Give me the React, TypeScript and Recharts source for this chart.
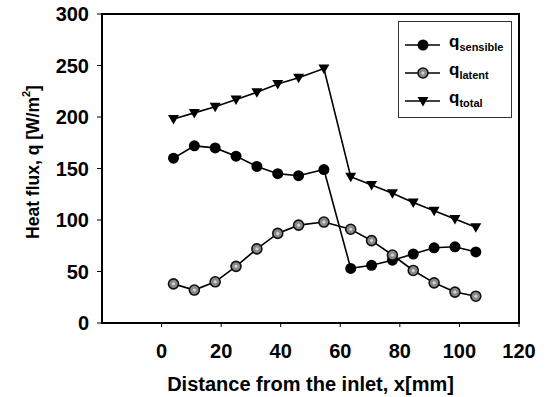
import React from 'react';
import { LineChart, Line, XAxis, YAxis, ReferenceArea } from 'recharts';

// distance from inlet [mm]
const xPos = [4, 11, 18, 25, 32, 39, 46, 54.5, 63.5, 70.5, 77.5, 84.5, 91.5, 98.5, 105.5];
const qSensible = [160, 172, 170, 162, 152, 145, 143, 149, 53, 56, 61, 67, 73, 74, 69];
const qLatent = [38, 32, 40, 55, 72, 87, 95, 98, 91, 80, 66, 51, 39, 30, 26];
const qTotal = [198, 204, 210, 217, 224, 232, 238, 247, 142, 134, 126, 117, 109, 101, 93];
const xTicks = [0, 20, 40, 60, 80, 100, 120];
const yTicks = [0, 50, 100, 150, 200, 250, 300];

const data = xPos.map((x, i) => ({
  x,
  sensible: qSensible[i],
  latent: qLatent[i],
  total: qTotal[i],
}));

const FONT = '"Liberation Sans", Arial, sans-serif';

const SensibleDot = ({ cx, cy, index }: any) => (
  <circle key={`s-${index}`} cx={cx} cy={cy} r={5.5} fill="#000" />
);

const LatentDot = ({ cx, cy, index }: any) => (
  <g key={`l-${index}`}>
    <circle cx={cx} cy={cy} r={5} fill="#8a8a8a" stroke="#111" strokeWidth={1.6} />
    <circle cx={cx} cy={cy} r={1.5} fill="#d8d8d8" />
  </g>
);

const TotalDot = ({ cx, cy, index }: any) => (
  <path
    key={`t-${index}`}
    d={`M${cx - 5.5},${cy - 4} L${cx + 5.5},${cy - 4} L${cx},${cy + 5.5} Z`}
    fill="#000"
  />
);

const YTitle = () => {
  const cx = 33;
  const cy = 162;
  return (
    <text
      x={cx}
      y={cy}
      transform={`rotate(-90 ${cx} ${cy})`}
      textAnchor="middle"
      dominantBaseline="central"
      fontFamily={FONT}
      fontWeight="bold"
      fontSize={17.5}
      fill="#000"
    >
      Heat flux, q [W/m<tspan dy={-7} fontSize={11}>2</tspan><tspan dy={7}>]</tspan>
    </text>
  );
};

const XTitle = ({ viewBox }: any) => (
  <text
    x={viewBox.x + viewBox.width / 2}
    y={391}
    textAnchor="middle"
    fontFamily={FONT}
    fontWeight="bold"
    fontSize={20}
    fill="#000"
  >
    Distance from the inlet, x[mm]
  </text>
);

const legendRows = [
  { label: 'sensible', Dot: SensibleDot },
  { label: 'latent', Dot: LatentDot },
  { label: 'total', Dot: TotalDot },
];

const LegendBox = () => (
  <div
    style={{
      position: 'absolute',
      left: 398,
      top: 21,
      width: 114,
      height: 97,
      border: '1px solid #333',
      background: '#fff',
      boxSizing: 'border-box',
      paddingTop: 9,
      fontFamily: FONT,
    }}
  >
    {legendRows.map(({ label, Dot }) => (
      <div key={label} style={{ display: 'flex', alignItems: 'center', height: 28 }}>
        <svg width={48} height={16} style={{ marginLeft: 5 }}>
          <line x1={1} y1={8} x2={36} y2={8} stroke="#000" strokeWidth={1.6} />
          <Dot cx={19} cy={8} index={0} />
        </svg>
        <span style={{ fontWeight: 'bold', fontSize: 17, color: '#000', marginLeft: -3, lineHeight: '16px' }}>
          q<sub style={{ fontSize: 11 }}>{label}</sub>
        </span>
      </div>
    ))}
  </div>
);

export default function App() {
  return (
    <div style={{ position: 'absolute', left: 0, top: 0, width: 550, height: 397, background: '#fff' }}>
      <LineChart
        width={550}
        height={397}
        data={data}
        margin={{ top: 14, right: 31, bottom: 0, left: 0 }}
      >
        <ReferenceArea
          x1={-20}
          x2={120}
          y1={0}
          y2={300}
          fill="none"
          stroke="#000"
          strokeWidth={2}
        />
        <XAxis
          type="number"
          dataKey="x"
          domain={[-20, 120]}
          ticks={xTicks}
          height={74}
          tickSize={4}
          tickMargin={17}
          axisLine={{ stroke: '#000', strokeWidth: 2 }}
          tickLine={{ stroke: '#000' }}
          tick={{ fill: '#000', fontFamily: FONT, fontWeight: 'bold', fontSize: 20 }}
          label={<XTitle />}
        />
        <YAxis
          type="number"
          domain={[0, 300]}
          ticks={yTicks}
          width={102}
          tickSize={5}
          tickMargin={8}
          axisLine={{ stroke: '#000', strokeWidth: 2 }}
          tickLine={{ stroke: '#000' }}
          tick={{ fill: '#000', fontFamily: FONT, fontWeight: 'bold', fontSize: 20 }}
          label={<YTitle />}
        />
        <Line
          dataKey="sensible"
          stroke="#000"
          strokeWidth={1.6}
          dot={SensibleDot}
          isAnimationActive={false}
        />
        <Line
          dataKey="latent"
          stroke="#000"
          strokeWidth={1.6}
          dot={LatentDot}
          isAnimationActive={false}
        />
        <Line
          dataKey="total"
          stroke="#000"
          strokeWidth={1.6}
          dot={TotalDot}
          isAnimationActive={false}
        />
      </LineChart>
      <LegendBox />
    </div>
  );
}
